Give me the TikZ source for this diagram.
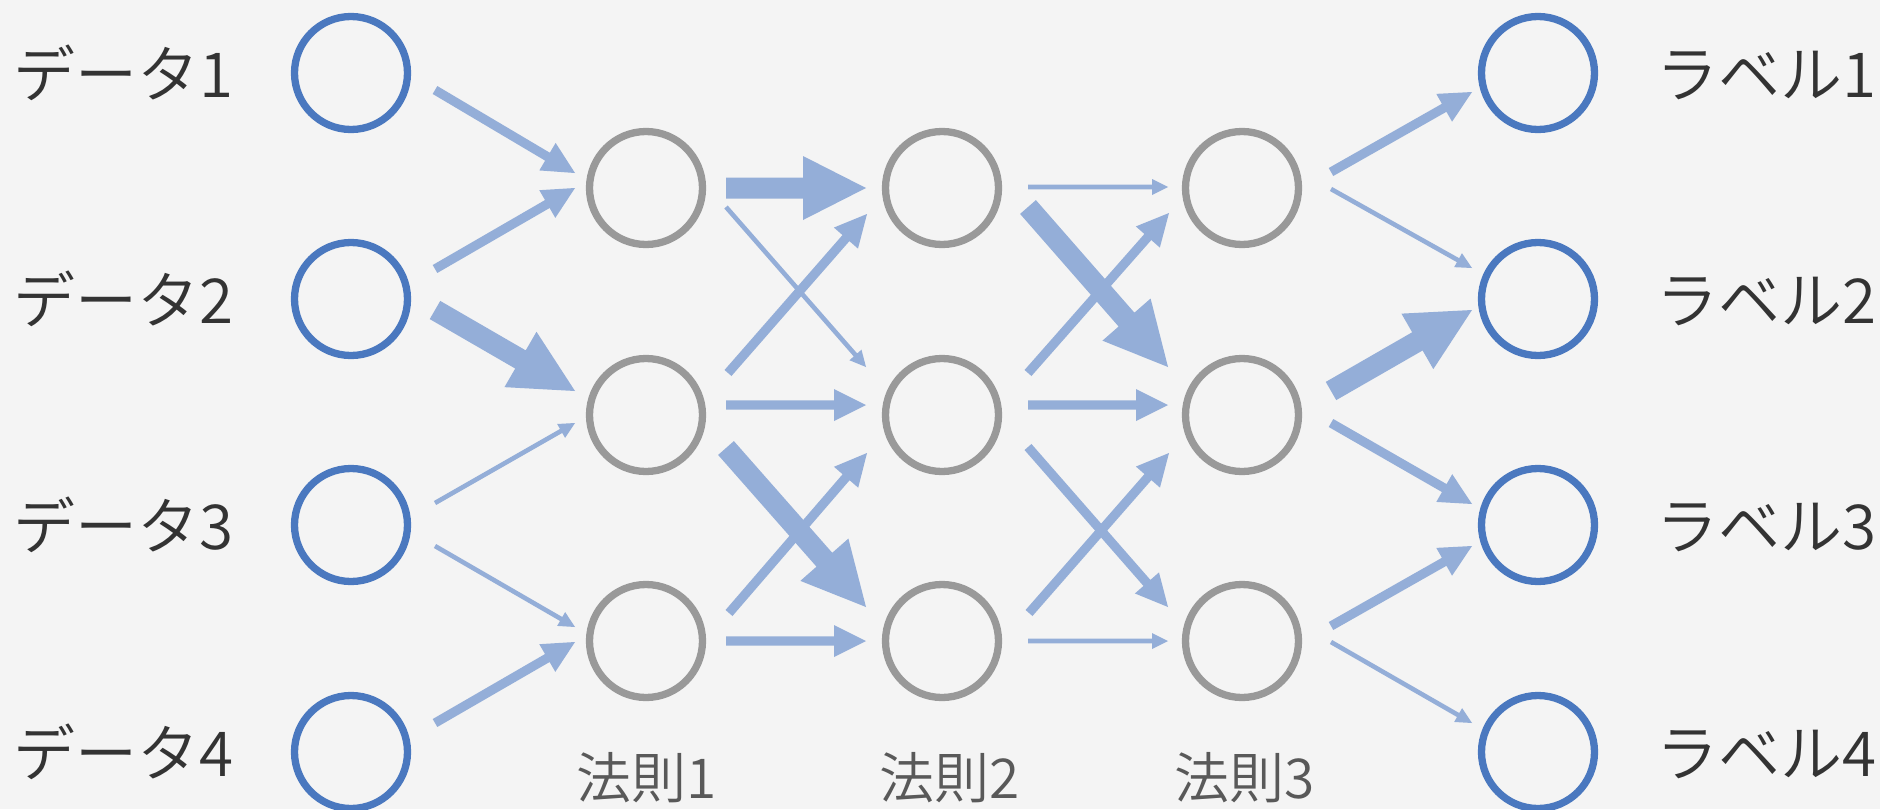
\documentclass[tikz,border=0pt]{standalone}
\usepackage{fontspec}
\setmainfont{Noto Sans CJK JP DemiLight}
\usetikzlibrary{calc}
\definecolor{bgc}{HTML}{F4F4F4}
\definecolor{inblue}{HTML}{4A78BF}
\definecolor{hgray}{HTML}{999999}
\definecolor{arrowc}{HTML}{94AED8}
\definecolor{txtc}{HTML}{333333}
\definecolor{rtxtc}{HTML}{595959}
% block arrow: #1 start, #2 tip, #3 half shaft, #4 half head width, #5 head length
\newcommand\barrow[5]{%
  \coordinate (bbase) at ($(#2)!#5pt!(#1)$);
  \fill[arrowc] ($(#1)!#3pt!90:(#2)$) -- ($(bbase)!#3pt!90:(#2)$) -- ($(bbase)!#4pt!90:(#2)$) -- (#2)
    -- ($(bbase)!#4pt!-90:(#2)$) -- ($(bbase)!#3pt!-90:(#2)$) -- ($(#1)!#3pt!-90:(#2)$) -- cycle;}
\newcommand\thinarrow[2]{\barrow{#1}{#2}{2.3}{8}{16}}
\newcommand\medarrow[2]{\barrow{#1}{#2}{4.6}{16}{32}}
\newcommand\thickarrow[2]{\barrow{#1}{#2}{10.5}{32}{63}}
\newcommand\conn[7]{%
  \coordinate (cs) at ($(#1)+(#2,#3)$);
  \coordinate (ce) at ($(#4)+(#5,#6)$);
  #7{cs}{ce}}
\begin{document}
\begin{tikzpicture}[x=1pt,y=-1pt,
  iocirc/.style={circle, draw=inblue, line width=7.3pt, minimum size=113pt, inner sep=0pt},
  hidcirc/.style={circle, draw=hgray, line width=7.3pt, minimum size=113pt, inner sep=0pt},
  lab/.style={text=txtc, font=\fontsize{62}{70}\selectfont, inner sep=0pt, anchor=base west},
  rulelab/.style={text=rtxtc, font=\fontsize{55}{64}\selectfont, inner sep=0pt, anchor=base}]
\fill[bgc] (0,0) rectangle (1880,809);
\useasboundingbox (0,0) rectangle (1880,809);

% input nodes
\node[iocirc] (d1) at (351,73) {};
\node[iocirc] (d2) at (351,299) {};
\node[iocirc] (d3) at (351,525) {};
\node[iocirc] (d4) at (351,752) {};
% hidden layers
\node[hidcirc] (h11) at (646,188) {};
\node[hidcirc] (h12) at (646,415) {};
\node[hidcirc] (h13) at (646,641) {};
\node[hidcirc] (h21) at (942,188) {};
\node[hidcirc] (h22) at (942,415) {};
\node[hidcirc] (h23) at (942,641) {};
\node[hidcirc] (h31) at (1242,188) {};
\node[hidcirc] (h32) at (1242,415) {};
\node[hidcirc] (h33) at (1242,641) {};
% outputs
\node[iocirc] (o1) at (1538,73) {};
\node[iocirc] (o2) at (1538,299) {};
\node[iocirc] (o3) at (1538,525) {};
\node[iocirc] (o4) at (1538,752) {};

% labels
\node[lab] (l1) at (13,97) {データ1};
\node[lab] (l2) at (13,323) {データ2};
\node[lab] (l3) at (13,549) {データ3};
\node[lab] (l4) at (13,776) {データ4};
\node[lab] (r1) at (1656,97) {ラベル1};
\node[lab] (r2) at (1656,323) {ラベル2};
\node[lab] (r3) at (1656,549) {ラベル3};
\node[lab] (r4) at (1656,776) {ラベル4};
\node[rulelab] (k1) at (647,798) {法則1};
\node[rulelab] (k2) at (950,798) {法則2};
\node[rulelab] (k3) at (1245,798) {法則3};

% input -> layer 1
\conn{d1}{84}{17}{h11}{-71}{-15}{\medarrow}
\conn{d2}{84}{-30}{h11}{-71}{0}{\medarrow}
\conn{d2}{84}{11}{h12}{-71}{-24}{\thickarrow}
\conn{d3}{84}{-22}{h12}{-71}{8}{\thinarrow}
\conn{d3}{84}{21}{h13}{-71}{-14}{\thinarrow}
\conn{d4}{84}{-29}{h13}{-71}{1}{\medarrow}
% layer 1 -> layer 2
\conn{h11}{80}{0}{h21}{-76}{0}{\thickarrow}
\conn{h11}{80}{19}{h22}{-76}{-48}{\thinarrow}
\conn{h12}{82}{-42}{h21}{-75}{26}{\medarrow}
\conn{h12}{80}{-10}{h22}{-76}{-10}{\medarrow}
\conn{h12}{80}{33}{h23}{-76}{-34}{\thickarrow}
\conn{h13}{83}{-28}{h22}{-75}{38}{\medarrow}
\conn{h13}{80}{0}{h23}{-76}{0}{\medarrow}
% layer 2 -> layer 3
\conn{h21}{86}{-1}{h31}{-74}{-1}{\thinarrow}
\conn{h21}{86}{19}{h32}{-74}{-48}{\thickarrow}
\conn{h22}{86}{-42}{h31}{-73}{25}{\medarrow}
\conn{h22}{86}{-10}{h32}{-74}{-10}{\medarrow}
\conn{h22}{86}{32}{h33}{-74}{-34}{\medarrow}
\conn{h23}{87}{-28}{h32}{-73}{38}{\medarrow}
\conn{h23}{86}{0}{h33}{-74}{0}{\thinarrow}
% layer 3 -> output
\conn{h31}{89}{-16}{o1}{-66}{19}{\medarrow}
\conn{h31}{89}{1}{o2}{-66}{-31}{\thinarrow}
\conn{h32}{89}{-24}{o2}{-66}{11}{\thickarrow}
\conn{h32}{89}{8}{o3}{-66}{-21}{\medarrow}
\conn{h33}{89}{-15}{o3}{-66}{21}{\medarrow}
\conn{h33}{89}{1}{o4}{-66}{-29}{\thinarrow}
\end{tikzpicture}
\end{document}
